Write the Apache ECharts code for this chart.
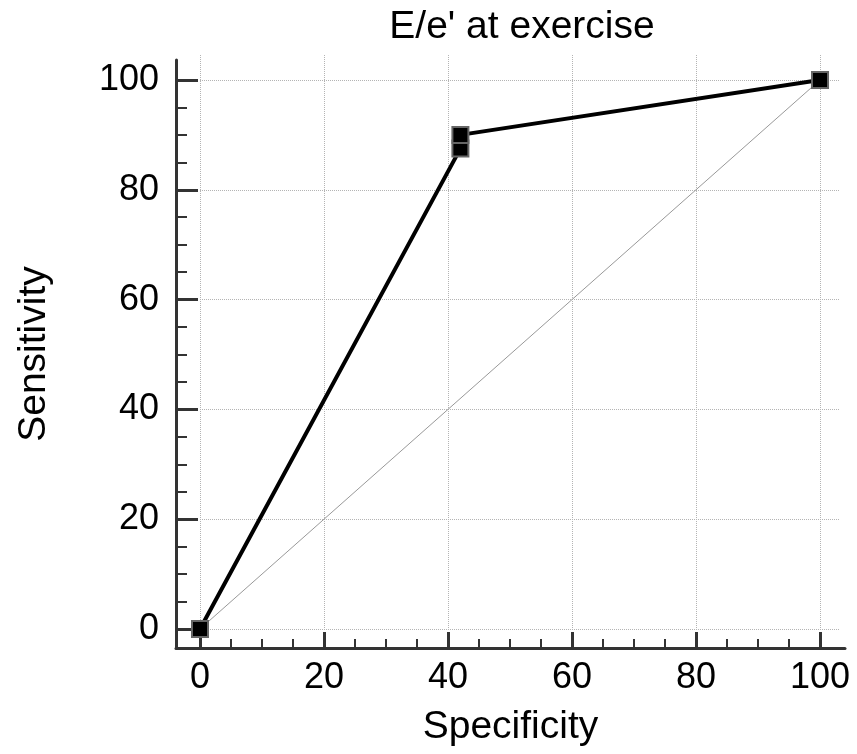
<!DOCTYPE html>
<html>
<head>
<meta charset="utf-8">
<script src="https://cdn.jsdelivr.net/npm/echarts@6/dist/echarts.min.js"></script>
<style>html,body{margin:0;padding:0;background:#fff}#c{width:857px;height:754px}</style>
</head>
<body>
<div id="c"></div>
<script>
// Data
var titleText = "E/e' at exercise";
var xName = 'Specificity';
var yName = 'Sensitivity';
var rocX = [0, 42, 42, 100];
var rocY = [0, 87.5, 90, 100];
var diagX = [0, 100];
var diagY = [0, 100];
var majorTicks = [0, 20, 40, 60, 80, 100];
var minorTicks = [5, 10, 15, 25, 30, 35, 45, 50, 55, 65, 70, 75, 85, 90, 95];

var FONT = 'Liberation Sans';
var chart = echarts.init(document.getElementById('c'), null, {renderer: 'canvas'});

function pairs(xs, ys) { return xs.map(function (v, i) { return [v, ys[i]]; }); }

var tickColor = '#333';
// axis frame grid: 176..845 px (x), 60..648 px (y); data 0..100 maps to 200..820 / 629..80
var xMin = -3.871, xMax = 104.03;
var yMin = -3.461, yMax = 103.64;

var option = {
  backgroundColor: '#fff',
  animation: false,
  title: {
    text: titleText, left: 517, top: 3, textAlign: 'center',
    textStyle: {fontFamily: FONT, fontSize: 39, fontWeight: 'normal', color: '#000'}
  },
  grid: [
    {left: 176, right: 12, top: 60, bottom: 106},   // axis frame grid
    {left: 200, right: 17, top: 55, bottom: 125}    // split line grid
  ],
  xAxis: [
    {
      gridIndex: 0, type: 'value', min: xMin, max: xMax, position: 'bottom',
      name: xName, nameLocation: 'middle', nameGap: 60,
      nameTextStyle: {fontFamily: FONT, fontSize: 39, color: '#000'},
      axisLine: {show: true, onZero: false, lineStyle: {color: tickColor, width: 3}},
      axisTick: {show: true, inside: true, length: 16, customValues: majorTicks, lineStyle: {color: tickColor, width: 3}},
      axisLabel: {margin: 12, customValues: majorTicks, fontFamily: FONT, fontSize: 36, color: '#000'},
      splitLine: {show: false}
    },
    {
      gridIndex: 0, type: 'value', min: xMin, max: xMax, position: 'bottom',
      axisLine: {show: false, onZero: false},
      axisTick: {show: true, inside: true, length: 9, customValues: minorTicks, lineStyle: {color: tickColor, width: 2}},
      axisLabel: {show: false}, splitLine: {show: false}
    },
    {
      gridIndex: 1, type: 'value', min: 0, max: 103.2, interval: 20,
      axisLine: {show: false, onZero: false}, axisTick: {show: false}, axisLabel: {show: false},
      splitLine: {show: true, showMaxLine: false, lineStyle: {color: '#b4b4b4', type: 'dotted', width: 1}}
    }
  ],
  yAxis: [
    {
      gridIndex: 0, type: 'value', min: yMin, max: yMax, position: 'left',
      name: yName, nameLocation: 'middle', nameGap: 122, nameRotate: 90,
      nameTextStyle: {fontFamily: FONT, fontSize: 39, color: '#000'},
      axisLine: {show: true, onZero: false, lineStyle: {color: tickColor, width: 3}},
      axisTick: {show: true, inside: true, length: 22, customValues: majorTicks, lineStyle: {color: tickColor, width: 3}},
      axisLabel: {margin: 17, customValues: majorTicks, fontFamily: FONT, fontSize: 36, color: '#000'},
      splitLine: {show: false}
    },
    {
      gridIndex: 0, type: 'value', min: yMin, max: yMax, position: 'left',
      axisLine: {show: false, onZero: false},
      axisTick: {show: true, inside: true, length: 11, customValues: minorTicks, lineStyle: {color: tickColor, width: 2}},
      axisLabel: {show: false}, splitLine: {show: false}
    },
    {
      gridIndex: 1, type: 'value', min: 0, max: 104.55, interval: 20,
      axisLine: {show: false, onZero: false}, axisTick: {show: false}, axisLabel: {show: false},
      splitLine: {show: true, showMaxLine: false, lineStyle: {color: '#b4b4b4', type: 'dotted', width: 1}}
    }
  ],
  series: [
    {
      type: 'line', xAxisIndex: 0, yAxisIndex: 0, data: pairs(diagX, diagY),
      showSymbol: false, symbol: 'none', lineStyle: {color: '#999', width: 1}, z: 2, silent: true
    },
    {
      type: 'line', xAxisIndex: 0, yAxisIndex: 0, data: pairs(rocX, rocY),
      symbol: 'rect', symbolSize: 16, showSymbol: true,
      lineStyle: {color: '#000', width: 4},
      itemStyle: {color: '#000', borderColor: '#666', borderWidth: 2},
      z: 3
    }
  ]
};
chart.setOption(option);
</script>
</body>
</html>
